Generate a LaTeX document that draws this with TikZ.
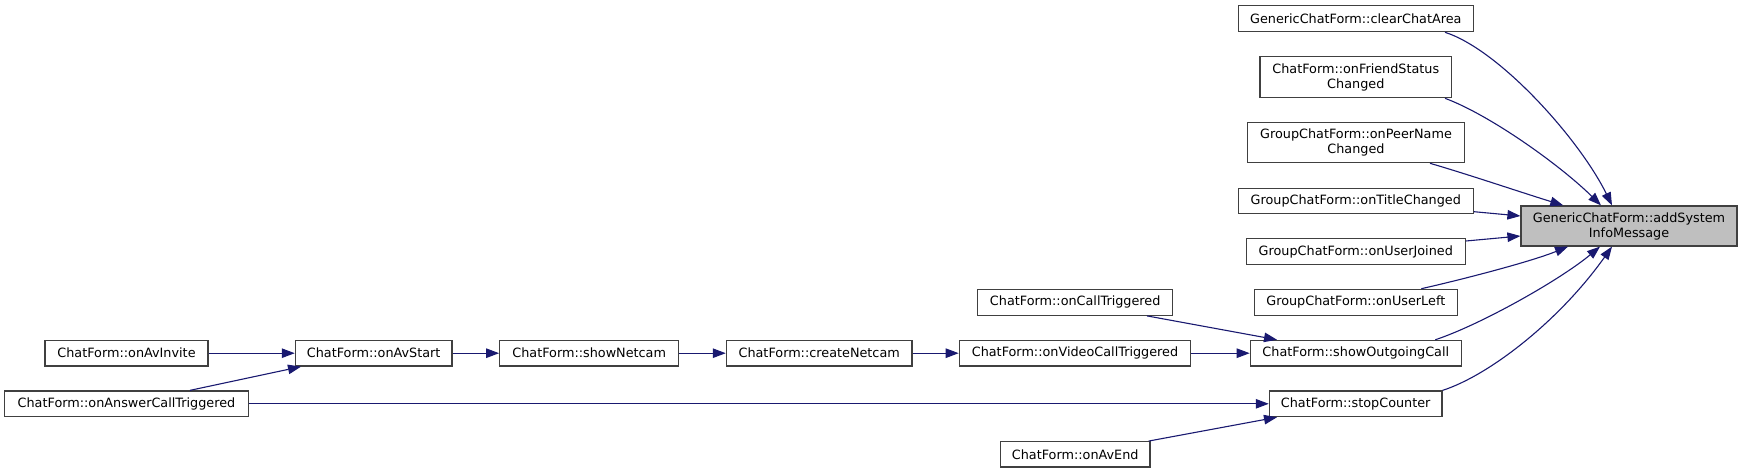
\documentclass[tikz,border=0pt]{standalone}
\usepackage{fontspec}
\setmainfont{DejaVu Sans}
\usetikzlibrary{arrows.meta}
\definecolor{edgeblue}{HTML}{191970}
\definecolor{boxline}{HTML}{404040}
\definecolor{boxfill}{HTML}{BFBFBF}
\tikzset{
  fn/.style={draw=boxline, line width=1.2pt, fill=white, inner sep=0pt, align=center,
    font=\fontsize{12.8}{15}\selectfont, text=black},
  call/.style={draw=edgeblue, line width=1.1pt, -{Triangle[length=13pt,width=9.5pt]}},
}
\newcommand{\fnbox}[6]{%
  \node[fn, minimum width=#4pt, minimum height=#5pt] (#1) at (#2,#3) {#6};}
\begin{document}
\begin{tikzpicture}[x=1pt,y=-1pt]
\useasboundingbox (0,0) rectangle (1743,473);
% right column
\fnbox{clear}{1355.8}{18.7}{235}{26}{GenericChatForm::clearChatArea}
\fnbox{friend}{1355.8}{77.2}{191.7}{41}{ChatForm::onFriendStatus\\Changed}
\fnbox{peer}{1356}{142.5}{216.6}{40.4}{GroupChatForm::onPeerName\\Changed}
\fnbox{title}{1355.8}{201}{235}{25.4}{GroupChatForm::onTitleChanged}
\fnbox{joined}{1355.8}{251.5}{219}{25.5}{GroupChatForm::onUserJoined}
\fnbox{left}{1355.8}{302.3}{203}{26}{GroupChatForm::onUserLeft}
\fnbox{showout}{1355.8}{353.2}{211}{25.7}{ChatForm::showOutgoingCall}
\fnbox{stop}{1355.7}{403.8}{172.7}{25.7}{ChatForm::stopCounter}
\node[fn, fill=boxfill, minimum width=216pt, minimum height=40pt] (addsys) at (1629,226) {GenericChatForm::addSystem\\InfoMessage};
% middle
\fnbox{calltrig}{1075.2}{302.3}{195}{26}{ChatForm::onCallTriggered}
\fnbox{videocall}{1075}{353.2}{231.4}{25.7}{ChatForm::onVideoCallTriggered}
\fnbox{avend}{1075.2}{454.3}{149.7}{25.3}{ChatForm::onAvEnd}
\fnbox{createnc}{819.2}{353.2}{185.7}{25.7}{ChatForm::createNetcam}
\fnbox{shownc}{589.2}{353.2}{179}{25.7}{ChatForm::showNetcam}
\fnbox{avstart}{373.7}{353.2}{156.7}{25.7}{ChatForm::onAvStart}
\fnbox{avinvite}{126.5}{353.2}{163}{25.7}{ChatForm::onAvInvite}
\fnbox{answer}{126.5}{403.8}{243.6}{25.7}{ChatForm::onAnswerCallTriggered}
% edges: chain
\draw[call] (avinvite) -- (avstart);
\draw[call] ([xshift=63.5pt]answer.north) -- ([xshift=-72.7pt]avstart.south);
\draw[call] (answer) -- (stop);
\draw[call] (avstart) -- (shownc);
\draw[call] (shownc) -- (createnc);
\draw[call] (createnc) -- (videocall);
\draw[call] (videocall) -- (showout);
\draw[call] ([xshift=71.8pt]calltrig.south) -- ([xshift=-78.8pt]showout.north);
\draw[call] ([xshift=73.5pt]avend.north) -- ([xshift=-78.7pt]stop.south);
% edges into addSystemInfoMessage
\draw[call] ([xshift=89.2pt]clear.south) .. controls (1500,50) and (1580,140) .. ([xshift=-17pt]addsys.north);
\draw[call] ([xshift=89.2pt]friend.south) .. controls (1490,115) and (1560,165) .. ([xshift=-28pt]addsys.north);
\draw[call] ([xshift=74pt]peer.south) .. controls (1470,175) and (1520,192) .. ([xshift=-65.7pt]addsys.north);
\draw[call] ([yshift=-10.7pt]title.east) -- ([yshift=10pt]addsys.west);
\draw[call] ([yshift=10.5pt]joined.east) -- ([yshift=-10pt]addsys.west);
\draw[call] ([xshift=65.5pt]left.north) .. controls (1460,280) and (1530,262) .. ([xshift=-61pt]addsys.south);
\draw[call] ([xshift=79.5pt]showout.north) .. controls (1480,325) and (1560,280) .. ([xshift=-29pt]addsys.south);
\draw[call] (stop.north east) .. controls (1490,375) and (1560,320) .. ([xshift=-17pt]addsys.south);
\end{tikzpicture}
\end{document}
